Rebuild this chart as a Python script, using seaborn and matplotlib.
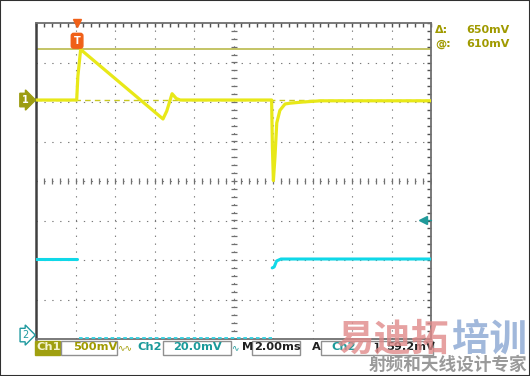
import numpy as np
import pandas as pd
import matplotlib
matplotlib.use("Agg")
import matplotlib.pyplot as plt
import seaborn as sns
from matplotlib.patches import Rectangle

# Ch1: time in ms, value in volts relative to Ch1 ground marker
ch1_t = [0.0, 2.06, 2.12, 2.26, 6.43, 6.62, 6.89, 7.10, 7.30, 11.93, 11.97, 12.02,
         12.10, 12.19, 12.35, 12.61, 12.86, 13.52, 14.40, 20.0]
ch1_v = [0.0, 0.0, 0.30, 0.64, -0.24, -0.14, 0.08, 0.02, 0.0, 0.0, -0.60, -1.02,
         -0.72, -0.29, -0.13, -0.05, -0.04, -0.025, -0.01, -0.01]
# Ch2: time in ms, value in mV relative to Ch2 ground marker; segments are
# separate visible pieces of the trace (the scope draws no vertical edges)
ch2_t = [0.0, 2.08, 2.16, 11.95, 11.96, 12.06, 12.18, 12.40, 20.0]
ch2_v = [39.5, 39.5, -0.5, -0.5, 35.0, 35.5, 38.5, 39.5, 39.5]
ch2_seg = [0, 0, 1, 1, 2, 2, 2, 2, 2]

ch1_scale_v = 0.5      # 500 mV/div
ch2_scale_mv = 20.0    # 20.0 mV/div
time_scale_ms = 2.0    # 2.00 ms/div
ch1_offset_div = 2.05
ch2_offset_div = -3.95
trig_time_ms = 2.08
trig_level_mv = 59.2
cursor_mv = 650
cursor_at_mv = 610

ch1 = pd.DataFrame({"x": np.array(ch1_t) / time_scale_ms,
                    "y": np.array(ch1_v) / ch1_scale_v + ch1_offset_div})
ch2 = pd.DataFrame({"x": np.array(ch2_t) / time_scale_ms,
                    "y": np.array(ch2_v) / ch2_scale_mv + ch2_offset_div,
                    "seg": ch2_seg})

# ---------------- figure ----------------
sns.set_style("white")
plt.rcParams['font.family'] = ['DejaVu Sans']
W, H = 530, 376
fig = plt.figure(figsize=(W / 100, H / 100), dpi=100)
fig.patch.set_facecolor("white")

def px(x, y):
    return x / W, 1 - y / H

ax = fig.add_axes([36 / W, 1 - 339 / H, (431 - 36) / W, (339 - 23) / H])
ax.set_xlim(0, 10)
ax.set_ylim(-4, 4)
ax.set_facecolor("white")

# graticule
ax.set_xticks(np.arange(0, 11, 1))
ax.set_yticks(np.arange(-4, 5, 1))
ax.set_xticks(np.arange(0, 10.01, 0.2), minor=True)
ax.set_yticks(np.arange(-4, 4.01, 0.2), minor=True)
ax.set_xticklabels([])
ax.set_yticklabels([])
ax.tick_params(which="both", direction="in", top=True, right=True,
               length=3, width=1, color="#505050")
ax.grid(True, which="major", color="#7a7a7a", linewidth=0.8,
        linestyle=(0, (1.2, 5.9)))
for s in ax.spines.values():
    s.set_color("#707070")
    s.set_linewidth(1.3)
ax.spines["left"].set_color("#404040")
ax.spines["left"].set_linewidth(1.8)

# center cross ticks
cx = np.arange(0, 10.01, 0.2)
cy = np.arange(-4, 4.01, 0.2)
ax.plot(cx, np.zeros_like(cx), linestyle="none", marker="|", ms=4,
        mew=0.9, color="#707070", zorder=1)
ax.plot(np.full_like(cy, 5.0), cy, linestyle="none", marker="_", ms=4,
        mew=0.9, color="#707070", zorder=1)

# Ch1 ground reference (dashed) and cursor
ax.axhline(ch1_offset_div, color="#c8c820", lw=1.0, linestyle=(0, (4, 3)), zorder=2)
ax.axhline(cursor_mv / 1000 / ch1_scale_v + ch1_offset_div, color="#b4b43c",
           lw=1.1, zorder=2)

# traces
vis = ch2[ch2["seg"] != 1]
clipped = ch2[ch2["seg"] == 1]
sns.lineplot(data=vis, x="x", y="y", units="seg", ax=ax, sort=False,
             estimator=None, color="#10d8e8", lw=2.2, zorder=4)
sns.lineplot(data=clipped, x="x", y="y", ax=ax, sort=False, estimator=None,
             color="#30d0e0", lw=1.3, linestyle=(0, (2, 1.5)), zorder=4)
sns.lineplot(data=ch1, x="x", y="y", ax=ax, sort=False, estimator=None,
             color="#e8e818", lw=2.3, zorder=5)
ax.set_xlabel("")
ax.set_ylabel("")

# trigger level arrow (Ch2) on right edge
tl = trig_level_mv / ch2_scale_mv + ch2_offset_div
ax.plot([9.8], [tl], marker="<", ms=6, color="#209a9a", clip_on=False, zorder=6)
ax.plot([9.8, 10.0], [tl, tl], color="#209a9a", lw=1, clip_on=False, zorder=6)

# trigger position marker
tx = trig_time_ms / time_scale_ms
ax.plot([tx], [4.0], marker="v", ms=6, color="#f06018", clip_on=False, zorder=7)
ax.text(tx, 3.55, "T", ha="center", va="center", color="white", fontsize=7,
        fontweight="bold", clip_on=False, zorder=7,
        bbox=dict(boxstyle="round,pad=0.25", fc="#f06018", ec="#f06018"))

# channel ground markers
ax.text(-0.28, ch1_offset_div, "1", ha="center", va="center", color="white",
        fontsize=7, fontweight="bold", clip_on=False, zorder=7,
        bbox=dict(boxstyle="rarrow,pad=0.18", fc="#9c9c10", ec="#9c9c10"))
ax.text(-0.28, ch2_offset_div + 0.05, "2", ha="center", va="center",
        color="#209aa0", fontsize=7, clip_on=False, zorder=7,
        bbox=dict(boxstyle="rarrow,pad=0.18", fc="white", ec="#209aa0", lw=1))

# cursor readouts
olive = "#a09a00"
fig.text(*px(435, 30), "Δ:", color=olive, fontsize=8, fontweight="bold", va="center")
fig.text(*px(466, 30), f"{cursor_mv}mV", color=olive, fontsize=8,
         fontweight="bold", va="center")
fig.text(*px(435, 44), "@:", color=olive, fontsize=8, fontweight="bold", va="center")
fig.text(*px(466, 44), f"{cursor_at_mv}mV", color=olive, fontsize=8,
         fontweight="bold", va="center")

# bottom status bar
teal = "#1a9a9a"
yb = 347.5
def box(x0, x1, fc="none", ec="#909090"):
    fig.patches.append(Rectangle(px(x0, 355), (x1 - x0) / W, 14 / H,
                                 transform=fig.transFigure, fc=fc, ec=ec, lw=1))
box(35, 60, fc="#a0a010", ec="#a0a010")
box(60.5, 117)
box(162.5, 231)
box(251.5, 300)
box(320.5, 433)
fs = 8.2
fig.text(*px(36.5, yb), "Ch1", color="#f4f4d0", fontsize=fs, fontweight="bold", va="center")
fig.text(*px(73, yb), "500mV", color=olive, fontsize=fs, fontweight="bold", va="center")
fig.text(*px(117, yb), "∿∿", color=olive, fontsize=6.5, va="center")
fig.text(*px(137, yb), "Ch2", color=teal, fontsize=fs, fontweight="bold", va="center")
fig.text(*px(173, yb), "20.0mV", color=teal, fontsize=fs, fontweight="bold", va="center")
fig.text(*px(231.5, yb), "∿", color=teal, fontsize=6.5, va="center")
fig.text(*px(242, yb), "M", color="#202020", fontsize=fs, fontweight="bold", va="center")
fig.text(*px(254, yb), "2.00ms", color="#202020", fontsize=fs, fontweight="bold", va="center")
fig.text(*px(311.5, yb), "A", color="#202020", fontsize=fs, fontweight="bold", va="center")
fig.text(*px(331.5, yb), "Ch2", color=teal, fontsize=fs, fontweight="bold", va="center")
fig.text(*px(373, yb), "⌉", color="#202020", fontsize=fs, fontweight="bold", va="center")
fig.text(*px(386.5, yb), f"{trig_level_mv}mV", color="#202020", fontsize=fs,
         fontweight="bold", va="center")

# watermark
cjk = ['Noto Sans CJK SC', 'DejaVu Sans']
fig.text(*px(336, 339), "易迪拓", color="#e08a8a", alpha=0.8, fontsize=27,
         fontweight="bold", va="center", family=cjk, zorder=10)
fig.text(*px(452, 339), "培训", color="#8aa6d2", alpha=0.8, fontsize=27,
         fontweight="bold", va="center", family=cjk, zorder=10)
fig.text(*px(369, 365), "射频和天线设计专家", color="#9a9a9a", fontsize=12.7,
         fontweight="bold", va="center", family=cjk, zorder=10)

# outer frame
fig.patches.append(Rectangle((0, 0), 1, 1, transform=fig.transFigure,
                             fill=False, ec="#303030", lw=1.5))

fig.savefig("out.png", dpi=100, facecolor="white")
